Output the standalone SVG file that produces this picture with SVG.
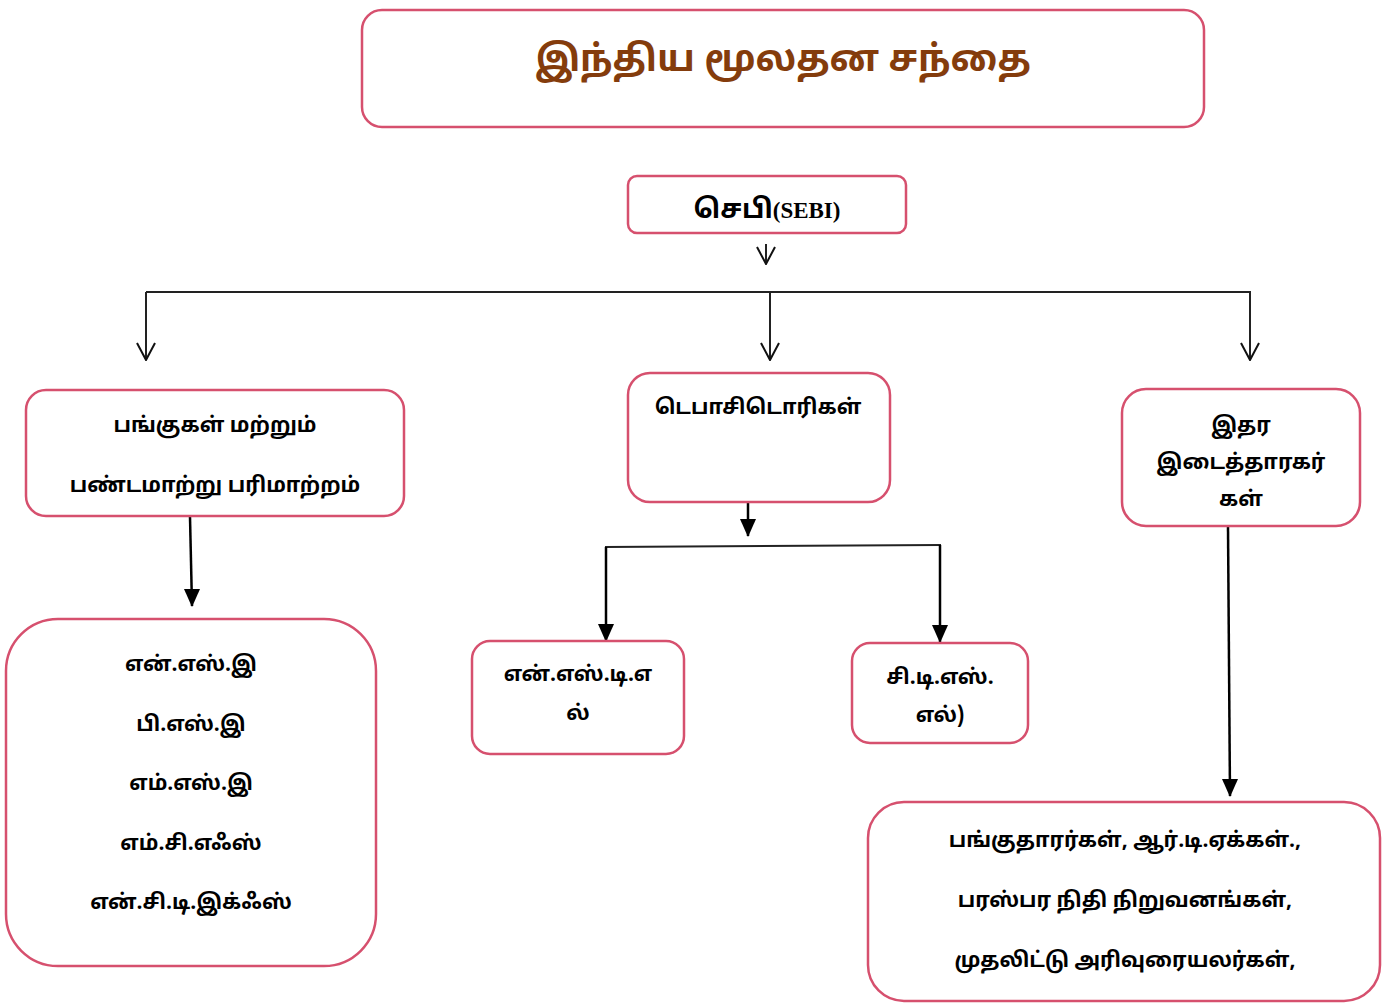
<svg xmlns="http://www.w3.org/2000/svg" width="1398" height="1003" viewBox="0 0 1398 1003">
<defs>
<marker id="open" viewBox="0 0 20 20" refX="19" refY="10" markerWidth="20" markerHeight="20" markerUnits="userSpaceOnUse" orient="auto">
<path d="M2,1 L19,10 L2,19" fill="none" stroke="#111" stroke-width="2"/>
</marker>
<marker id="solid" viewBox="0 0 16 18" refX="8" refY="17" markerWidth="16" markerHeight="18" markerUnits="userSpaceOnUse">
<path d="M0,0 L16,0 L8,18 Z" fill="#000"/>
</marker>
<style>
.box{fill:#fff;stroke:#d6506e;stroke-width:2.5}
.t{font-family:"Noto Sans Tamil","Noto Sans","Liberation Sans",sans-serif;font-weight:bold;font-size:21px;fill:#000;text-anchor:middle}
.line{stroke:#222;stroke-width:2;fill:none}
.thick{stroke:#000;stroke-width:2.5;fill:none}
</style>
</defs>
<g id="connectors">
<line class="line" x1="766" y1="244" x2="766" y2="264" marker-end="url(#open)"/>
<line class="line" x1="146" y1="292" x2="1251" y2="292"/>
<line class="line" x1="146" y1="292" x2="146" y2="360" marker-end="url(#open)"/>
<line class="line" x1="770" y1="292" x2="770" y2="360" marker-end="url(#open)"/>
<line class="line" x1="1250" y1="292" x2="1250" y2="360" marker-end="url(#open)"/>
<line class="thick" x1="190" y1="517" x2="192" y2="606" marker-end="url(#solid)"/>
<line class="thick" x1="748" y1="503" x2="748" y2="536" marker-end="url(#solid)"/>
<line class="line" x1="605" y1="547" x2="941" y2="545"/>
<line class="thick" x1="606" y1="547" x2="606" y2="641" marker-end="url(#solid)"/>
<line class="thick" x1="940" y1="545" x2="940" y2="642" marker-end="url(#solid)"/>
<line class="thick" x1="1228" y1="527" x2="1230" y2="796" marker-end="url(#solid)"/>
</g>
<g id="title">
<rect class="box" x="362" y="10" width="842" height="117" rx="20"/>
<text x="783" y="71" style="font-family:'Noto Sans Tamil','Noto Sans','Liberation Sans',sans-serif;font-weight:bold;font-size:36.5px;fill:#843c0c;text-anchor:middle">இந்திய மூலதன சந்தை</text>
</g>
<g id="sebi">
<rect class="box" x="628" y="176" width="278" height="57" rx="9"/>
<text x="767" y="218" class="t" style="font-size:27px">செபி<tspan style="font-family:'Liberation Serif',serif;font-size:23px">(SEBI)</tspan></text>
</g>
<g id="shares">
<rect class="box" x="26" y="390" width="378" height="126" rx="20"/>
<text x="215" y="432" class="t">பங்குகள் மற்றும்</text>
<text x="215" y="492" class="t">பண்டமாற்று பரிமாற்றம்</text>
</g>
<g id="depositories">
<rect class="box" x="628" y="373" width="262" height="129" rx="22"/>
<text x="758" y="414" class="t">டெபாசிடொரிகள்</text>
</g>
<g id="others">
<rect class="box" x="1122" y="389" width="238" height="137" rx="24"/>
<text x="1241" y="432" class="t">இதர</text>
<text x="1241" y="469" class="t">இடைத்தாரகர்</text>
<text x="1241" y="506" class="t">கள்</text>
</g>
<g id="exchanges">
<rect class="box" x="6" y="619" width="370" height="347" rx="52"/>
<text x="191" y="671" class="t">என்.எஸ்.இ</text>
<text x="191" y="731" class="t">பி.எஸ்.இ</text>
<text x="191" y="790" class="t">எம்.எஸ்.இ</text>
<text x="191" y="850" class="t">எம்.சி.எஃஸ்</text>
<text x="191" y="909" class="t">என்.சி.டி.இக்ஃஸ்</text>
</g>
<g id="nsdl">
<rect class="box" x="472" y="641" width="212" height="113" rx="18"/>
<text x="578" y="681" class="t">என்.எஸ்.டி.எ</text>
<text x="578" y="720" class="t">ல்</text>
</g>
<g id="cdsl">
<rect class="box" x="852" y="643" width="176" height="100" rx="18"/>
<text x="940" y="684" class="t">சி.டி.எஸ்.</text>
<text x="940" y="722" class="t">எல்)</text>
</g>
<g id="intermediaries">
<rect class="box" x="868" y="802" width="512" height="199" rx="36"/>
<text x="1125" y="847" class="t">பங்குதாரர்கள், ஆர்.டி.ஏக்கள்.,</text>
<text x="1125" y="907" class="t">பரஸ்பர நிதி நிறுவனங்கள்,</text>
<text x="1125" y="967" class="t">முதலிட்டு அரிவுரையலர்கள்,</text>
</g>
</svg>
